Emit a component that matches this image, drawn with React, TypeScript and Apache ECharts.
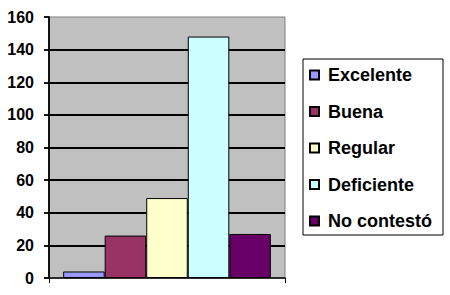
import React, { useEffect, useRef } from "react";
import * as echarts from "echarts";

const categories = ["Excelente", "Buena", "Regular", "Deficiente", "No contestó"];
const values = [4, 26, 49, 148, 27];
const colors = ["#9999FF", "#993366", "#FFFFCC", "#CCFFFF", "#660066"];
const yTicks = { min: 0, max: 160, interval: 20 };

export default function App() {
  const ref = useRef<HTMLDivElement>(null);
  useEffect(() => {
    if (!ref.current) return;
    const chart = echarts.init(ref.current, undefined, { renderer: "svg" });
    const font = "'Liberation Sans', Arial, sans-serif";
    chart.setOption({
      animation: false,
      grid: {
        left: 49,
        right: 165,
        top: 17,
        bottom: 17,
        show: true,
        backgroundColor: "#C0C0C0",
        borderColor: "#808080",
        borderWidth: 1,
      },
      legend: {
        orient: "vertical",
        left: 303,
        top: 59,
        padding: [7, 11, 5, 6],
        itemGap: 18.5,
        itemWidth: 9,
        itemHeight: 9,
        icon: "rect",
        borderColor: "#000",
        borderWidth: 1,
        data: categories,
        textStyle: {
          fontFamily: font,
          fontWeight: "bold",
          fontSize: 18,
          color: "#000",
          padding: [0, 0, 0, 4],
        },
      },
      xAxis: {
        type: "category",
        data: [""],
        axisLine: { lineStyle: { color: "#000", width: 1.5 } },
        axisTick: { show: true, length: 5, lineStyle: { color: "#000" } },
        axisLabel: { show: false },
      },
      yAxis: {
        type: "value",
        min: yTicks.min,
        max: yTicks.max,
        interval: yTicks.interval,
        axisLine: { show: true, lineStyle: { color: "#000", width: 1.8 } },
        axisTick: { show: true, length: 5, lineStyle: { color: "#000", width: 1.8 } },
        axisLabel: {
          margin: 15,
          fontFamily: font,
          fontWeight: "bold",
          fontSize: 16,
          color: "#000",
        },
        splitLine: {
          show: true,
          showMinLine: false,
          showMaxLine: false,
          lineStyle: { color: "#000", width: 1.8 },
        },
      },
      series: categories.map((name, i) => ({
        name,
        type: "bar",
        data: [values[i]],
        barGap: "0%",
        barCategoryGap: "12%",
        itemStyle: { color: colors[i], borderColor: "#000", borderWidth: 1 },
      })),
    });
    return () => chart.dispose();
  }, []);
  return (
    <div
      ref={ref}
      style={{ position: "fixed", left: 0, top: 0, width: 450, height: 295, background: "#fff" }}
    />
  );
}
